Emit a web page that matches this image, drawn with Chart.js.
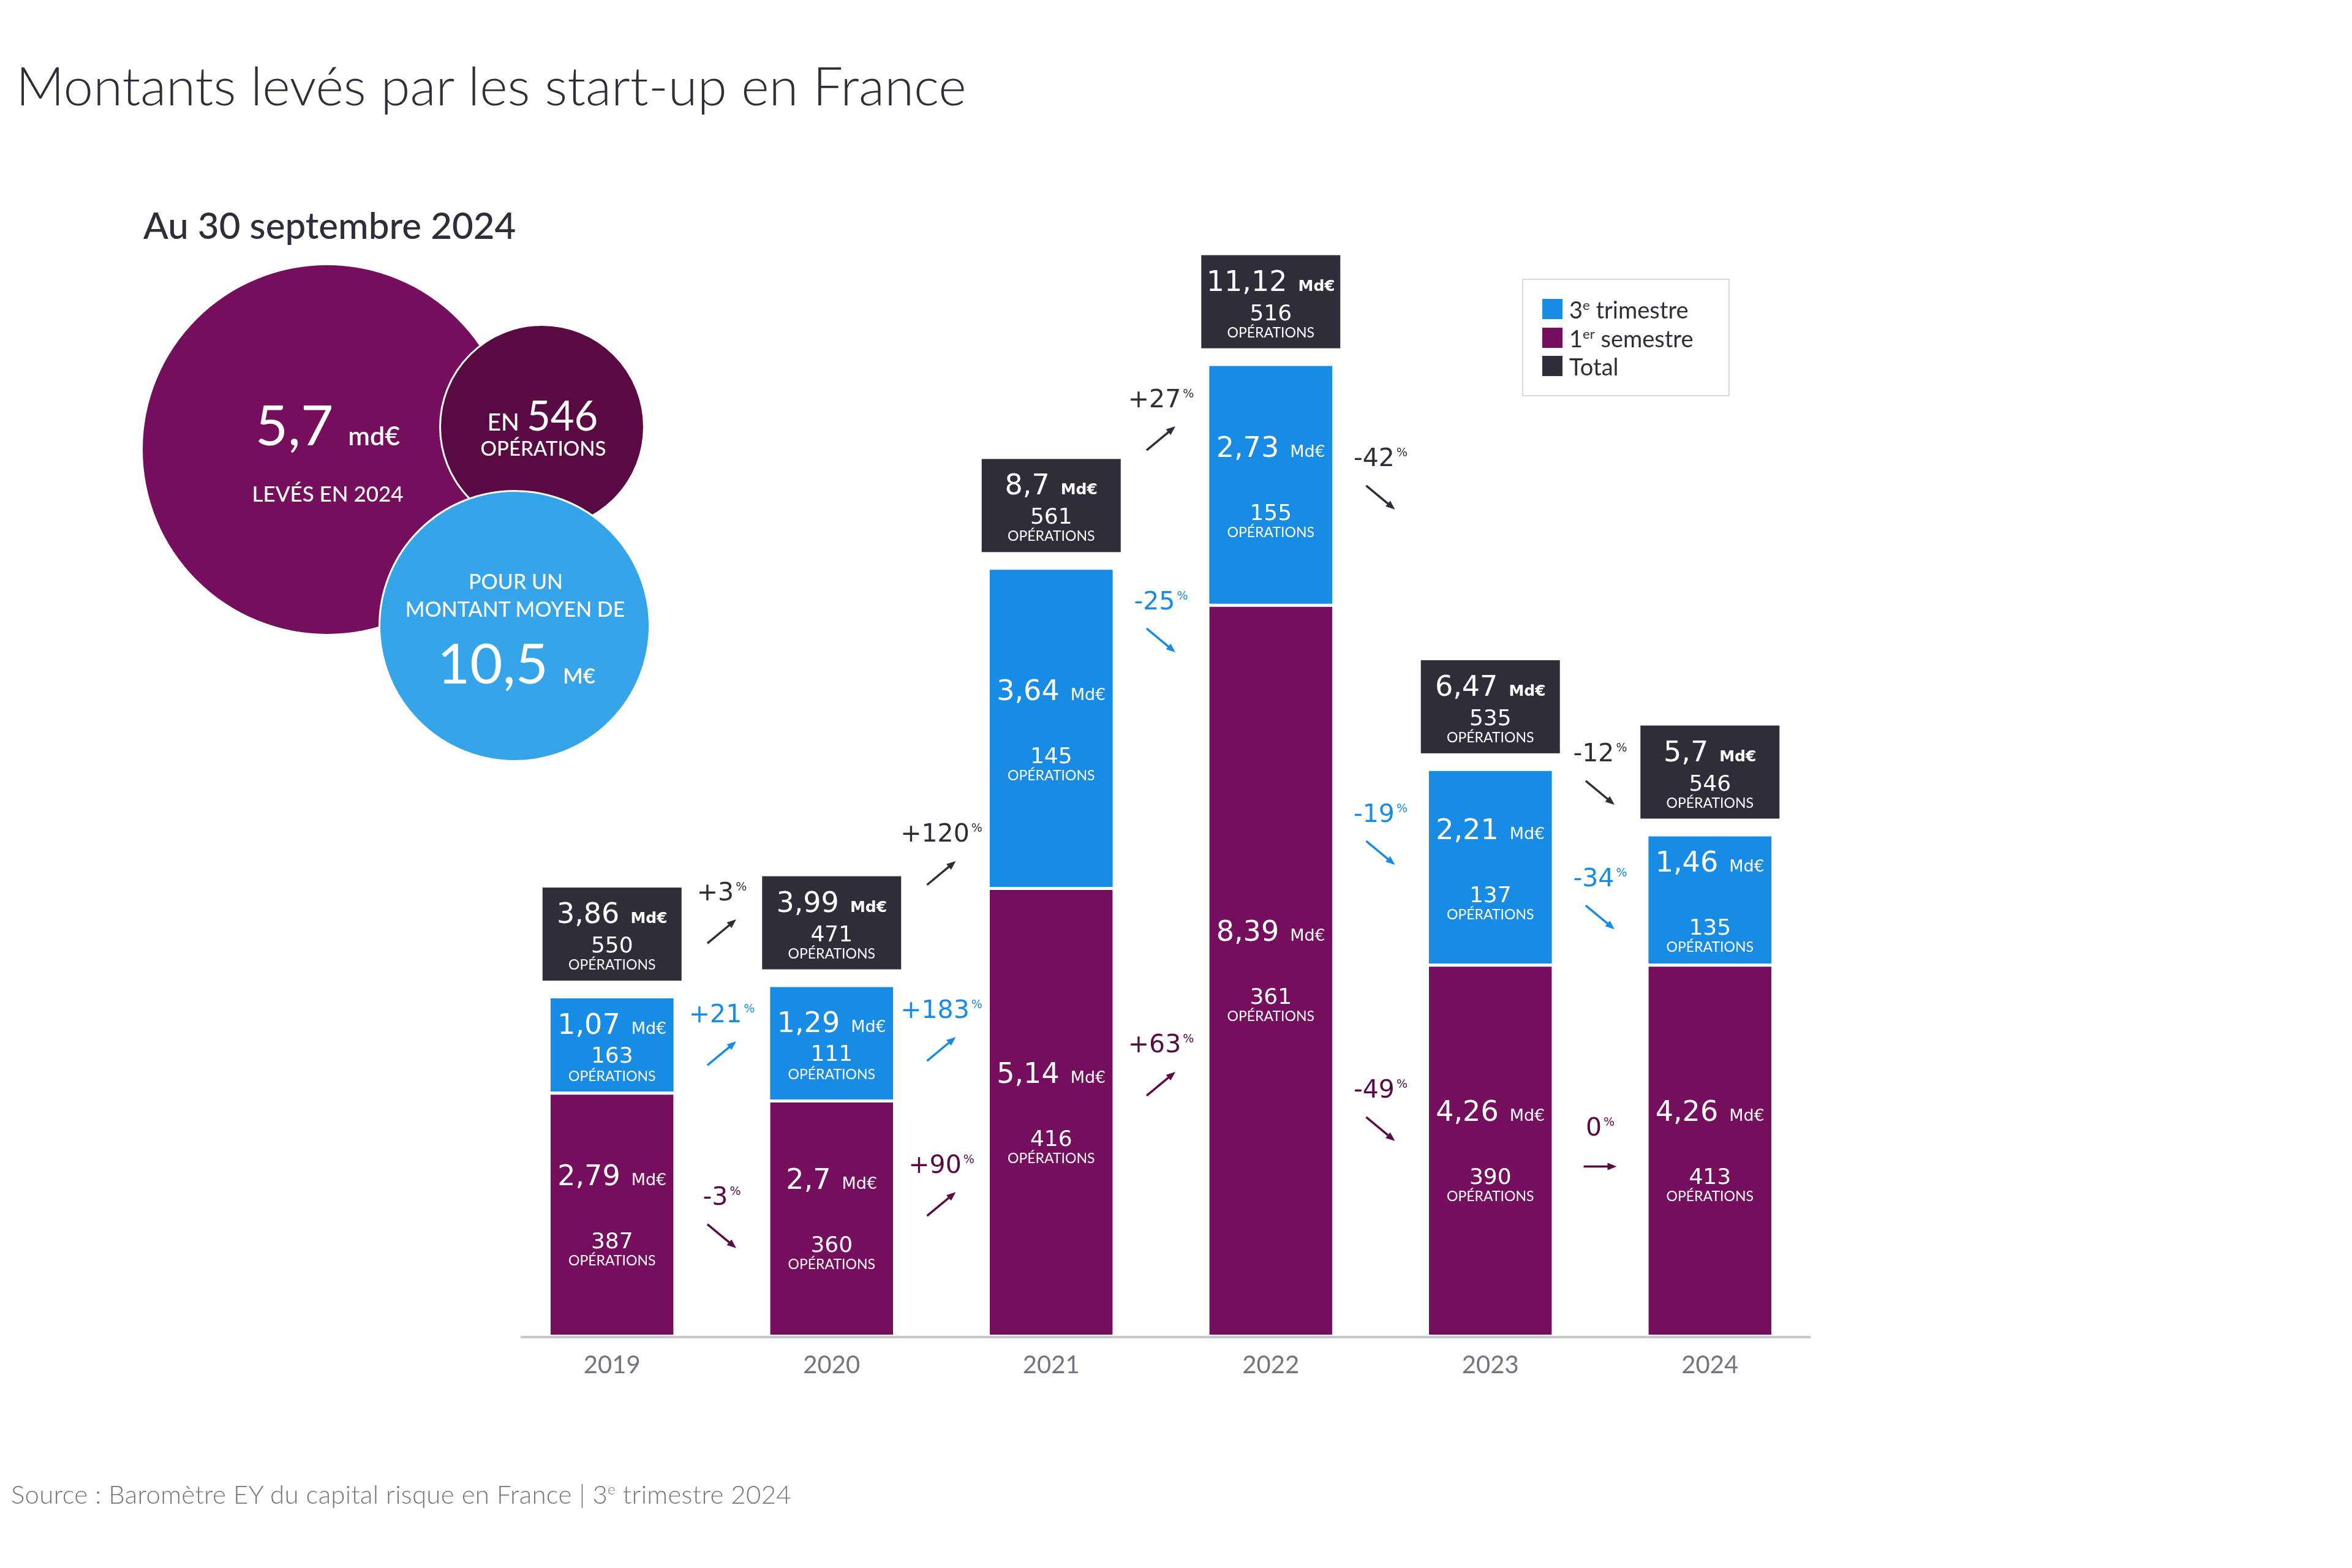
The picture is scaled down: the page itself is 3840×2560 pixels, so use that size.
<!DOCTYPE html>
<html lang="fr">
<head>
<meta charset="utf-8">
<title>Montants levés par les start-up en France</title>
<script src="https://cdn.jsdelivr.net/npm/chart.js@4.4.1/dist/chart.umd.min.js"></script>
<style>
  html, body { margin: 0; padding: 0; background: #fff; }
  #page { position: relative; width: 3840px; height: 2560px; overflow: hidden; font-family: Lato, 'Noto Sans', sans-serif; color: #2e2e38; }
  #chart { position: absolute; left: 0; top: 0; }
  .txt { position: absolute; white-space: nowrap; line-height: 1; }
  .mid { transform: translateX(-50%); }
  .sup { position: relative; top: -0.62em; font-size: 0.58em; }
  .bubble { position: absolute; border-radius: 50%; box-sizing: border-box; }
  .white { color: #fff; }
  .sq { position: absolute; width: 33px; height: 33px; }
</style>
</head>
<body>
<div id="page">
  <canvas id="chart" width="3840" height="2560"></canvas>

  <div class="txt" style="left:26px; font-size:87px; font-weight:300;" data-base="172">Montants levés par les start-up en France</div>
  <div class="txt" style="left:234px; font-size:60px; font-weight:500;" data-base="390">Au 30 septembre 2024</div>

  <!-- bulles -->
  <div class="bubble" style="left:233px; top:433px; width:602px; height:602px; background:#750e5c;"></div>
  <div class="bubble" style="left:717px; top:529px; width:336px; height:336px; background:#5a0a42; border:3px solid #fff;"></div>
  <div class="bubble" style="left:618px; top:800px; width:444px; height:444px; background:#35a4e8; border:3px solid #fff;"></div>

  <div class="txt mid white" style="left:535px;" data-base="727"><span style="font-size:92px;">5,7</span><span style="font-size:43px; font-weight:600; margin-left:24px;">md€</span></div>
  <div class="txt mid white" style="left:535px; font-size:35px; font-weight:500;" data-base="819">LEVÉS EN 2024</div>
  <div class="txt mid white" style="left:886px;" data-base="703"><span style="font-size:39px; font-weight:500;">EN</span><span style="font-size:67px; margin-left:12px;">546</span></div>
  <div class="txt mid white" style="left:887px; font-size:33px; font-weight:500;" data-base="744">OPÉRATIONS</div>
  <div class="txt mid white" style="left:842px; font-size:34px; font-weight:500;" data-base="962">POUR UN</div>
  <div class="txt mid white" style="left:841px; font-size:34px; font-weight:500;" data-base="1007">MONTANT MOYEN DE</div>
  <div class="txt mid white" style="left:843px;" data-base="1116"><span style="font-size:92px;">10,5</span><span style="font-size:35px; font-weight:600; margin-left:24px;">M€</span></div>

  <!-- légende -->
  <div style="position:absolute; left:2485px; top:455px; width:339px; height:192px; box-sizing:border-box; border:2px solid #d9d9e0;"></div>
  <div class="sq" style="left:2518px; top:488px; background:#188ce5;"></div>
  <div class="sq" style="left:2518px; top:535px; background:#750e5c;"></div>
  <div class="sq" style="left:2518px; top:581px; background:#2e2e38;"></div>
  <div class="txt" style="left:2562px; font-size:38px;" data-base="520">3<span class="sup">e</span> trimestre</div>
  <div class="txt" style="left:2562px; font-size:38px;" data-base="567">1<span class="sup">er</span> semestre</div>
  <div class="txt" style="left:2562px; font-size:38px;" data-base="613">Total</div>

  <div class="txt" style="left:18px; font-size:42px; font-weight:300; color:#747480; letter-spacing:0.3px;" data-base="2455">Source : Baromètre EY du capital risque en France | 3<span class="sup">e</span> trimestre 2024</div>
</div>

<script>
// Données
const years = ['2019', '2020', '2021', '2022', '2023', '2024'];
const h1Values = [2.79, 2.7, 5.14, 8.39, 4.26, 4.26];     // 1er semestre, Md€
const q3Values = [1.07, 1.29, 3.64, 2.73, 2.21, 1.46];    // 3e trimestre, Md€
const totalValues = [3.86, 3.99, 8.7, 11.12, 6.47, 5.7];  // total, Md€
const h1Deals = [387, 360, 416, 361, 390, 413];
const q3Deals = [163, 111, 145, 155, 137, 135];
const totalDeals = [550, 471, 561, 516, 535, 546];

// évolutions d'une année sur l'autre (%)
const totalChange = [3, 120, 27, -42, -12];
const q3Change = [21, 183, -25, -19, -34];
const h1Change = [-3, 90, 63, -49, 0];
// niveau (Md€) où se place chaque flèche
const totalArrowLevel = [4.63, 5.3, 10.29, 9.61, 6.22];
const q3ArrowLevel = [3.23, 3.28, 7.97, 5.53, 4.79];
const h1ArrowLevel = [1.13, 1.5, 2.88, 2.36, 1.93];

const BLUE = '#188ce5', PURPLE = '#750e5c', PLUM = '#5a0a42', DARK = '#2e2e38';
const NUM = '"DejaVu Sans", Verdana, sans-serif';

// positionner les textes HTML sur leur ligne de base
document.querySelectorAll('[data-base]').forEach(el => {
  const probe = document.createElement('span');
  probe.style.cssText = 'display:inline-block;width:0;height:0;vertical-align:baseline';
  el.appendChild(probe);
  el.style.top = (parseFloat(el.dataset.base) - probe.offsetTop) + 'px';
});

const fmt = v => String(v).replace('.', ',');

function drawAmount(ctx, cx, y, value, unitFont) {
  const num = fmt(value);
  ctx.font = '46px ' + NUM;
  const w1 = ctx.measureText(num).width;
  ctx.font = unitFont;
  const w2 = ctx.measureText('Md€').width;
  const x0 = cx - (w1 + 18 + w2) / 2;
  ctx.textAlign = 'left';
  ctx.font = '46px ' + NUM;
  ctx.fillText(num, x0, y);
  ctx.font = unitFont;
  ctx.fillText('Md€', x0 + w1 + 18, y);
}

function drawDeals(ctx, cx, y1, y2, n) {
  ctx.textAlign = 'center';
  ctx.font = '36px ' + NUM;
  ctx.fillText(String(n), cx, y1);
  ctx.font = '23px Lato, sans-serif';
  ctx.fillText('OPÉRATIONS', cx, y2);
}

function drawArrow(ctx, x1, y1, x2, y2, color) {
  const a = Math.atan2(y2 - y1, x2 - x1);
  const head = 15, hw = 6;
  const c = Math.cos(a), s = Math.sin(a);
  ctx.strokeStyle = color;
  ctx.fillStyle = color;
  ctx.lineWidth = 3.5;
  ctx.beginPath();
  ctx.moveTo(x1, y1);
  ctx.lineTo(x2 - c * head * 0.7, y2 - s * head * 0.7);
  ctx.stroke();
  ctx.beginPath();
  ctx.moveTo(x2, y2);
  ctx.lineTo(x2 - head * c + hw * s, y2 - head * s - hw * c);
  ctx.lineTo(x2 - head * c - hw * s, y2 - head * s + hw * c);
  ctx.closePath();
  ctx.fill();
}

function drawChange(ctx, cx, cy, pct, color) {
  // flèche
  if (pct > 0) drawArrow(ctx, cx - 23.5, cy + 19.5, cx + 23.5, cy - 19.5, color);
  else if (pct < 0) drawArrow(ctx, cx - 23.5, cy - 19.5, cx + 23.5, cy + 19.5, color);
  else drawArrow(ctx, cx - 27, cy, cx + 27, cy, color);
  // texte
  const txt = (pct > 0 ? '+' : pct < 0 ? '-' : '') + Math.abs(pct);
  const base = cy - 51;
  ctx.fillStyle = color;
  ctx.textAlign = 'left';
  ctx.font = '41px ' + NUM;
  const w1 = ctx.measureText(txt).width;
  ctx.font = '19px ' + NUM;
  const w2 = ctx.measureText('%').width;
  const x0 = cx - (w1 + 3 + w2) / 2;
  ctx.font = '41px ' + NUM;
  ctx.fillText(txt, x0, base);
  ctx.font = '19px ' + NUM;
  ctx.fillText('%', x0 + w1 + 3, base - 16);
}

const overlay = {
  id: 'overlay',
  afterDatasetsDraw(chart) {
    const ctx = chart.ctx;
    const area = chart.chartArea;
    const y = chart.scales.y;
    const h1Bars = chart.getDatasetMeta(0).data;
    const q3Bars = chart.getDatasetMeta(1).data;
    ctx.save();

    // ligne de base
    ctx.fillStyle = '#c8c8d0';
    ctx.fillRect(area.left + 30, area.bottom + 2, area.right - area.left - 45, 4);

    // libellés des segments
    ctx.fillStyle = '#fff';
    [[h1Bars, h1Values, h1Deals], [q3Bars, q3Values, q3Deals]].forEach(([bars, vals, deals]) => {
      bars.forEach((el, i) => {
        const p = el.getProps(['x', 'y', 'base'], true);
        const c = (p.y + p.base) / 2;
        const compact = p.base - p.y < 200;
        drawAmount(ctx, p.x, c + (compact ? -18 : -46), vals[i], '27px ' + NUM);
        drawDeals(ctx, p.x, c + (compact ? 29 : 57), c + (compact ? 59 : 85), deals[i]);
      });
    });

    // cartouches des totaux
    q3Bars.forEach((el, i) => {
      const p = el.getProps(['x', 'y'], true);
      const bottom = p.y - 29, top = bottom - 152;
      ctx.fillStyle = DARK;
      ctx.fillRect(p.x - 113.5, top, 227, 152);
      ctx.fillStyle = '#fff';
      drawAmount(ctx, p.x, top + 58, totalValues[i], 'bold 25px ' + NUM);
      drawDeals(ctx, p.x, top + 106, top + 134, totalDeals[i]);
    });

    // évolutions
    for (let i = 0; i < years.length - 1; i++) {
      const cx = (q3Bars[i].x + q3Bars[i + 1].x) / 2;
      drawChange(ctx, cx, y.getPixelForValue(totalArrowLevel[i]), totalChange[i], DARK);
      drawChange(ctx, cx, y.getPixelForValue(q3ArrowLevel[i]), q3Change[i], BLUE);
      drawChange(ctx, cx, y.getPixelForValue(h1ArrowLevel[i]), h1Change[i], PLUM);
    }
    ctx.restore();
  }
};

new Chart(document.getElementById('chart'), {
  type: 'bar',
  data: {
    labels: years,
    datasets: [
      {
        label: '1er semestre',
        data: h1Values,
        backgroundColor: PURPLE,
        borderColor: '#fff',
        borderWidth: { top: 5, left: 0, right: 0, bottom: 0 },
        borderSkipped: false
      },
      {
        label: '3e trimestre',
        data: q3Values,
        backgroundColor: BLUE
      }
    ]
  },
  options: {
    responsive: false,
    animation: false,
    devicePixelRatio: 1,
    layout: { padding: { left: 820, right: 869, top: 188, bottom: 281 } },
    datasets: { bar: { barPercentage: 0.56, categoryPercentage: 1 } },
    plugins: { legend: { display: false }, tooltip: { enabled: false } },
    scales: {
      x: {
        stacked: true,
        grid: { display: false, drawTicks: false },
        border: { display: false },
        ticks: { color: '#747480', font: { family: 'Lato', size: 40 }, padding: 26 },
        afterFit(scale) { scale.height = 100; }
      },
      y: { stacked: true, display: false, min: 0, max: 14 }
    }
  },
  plugins: [overlay]
});
</script>
</body>
</html>
